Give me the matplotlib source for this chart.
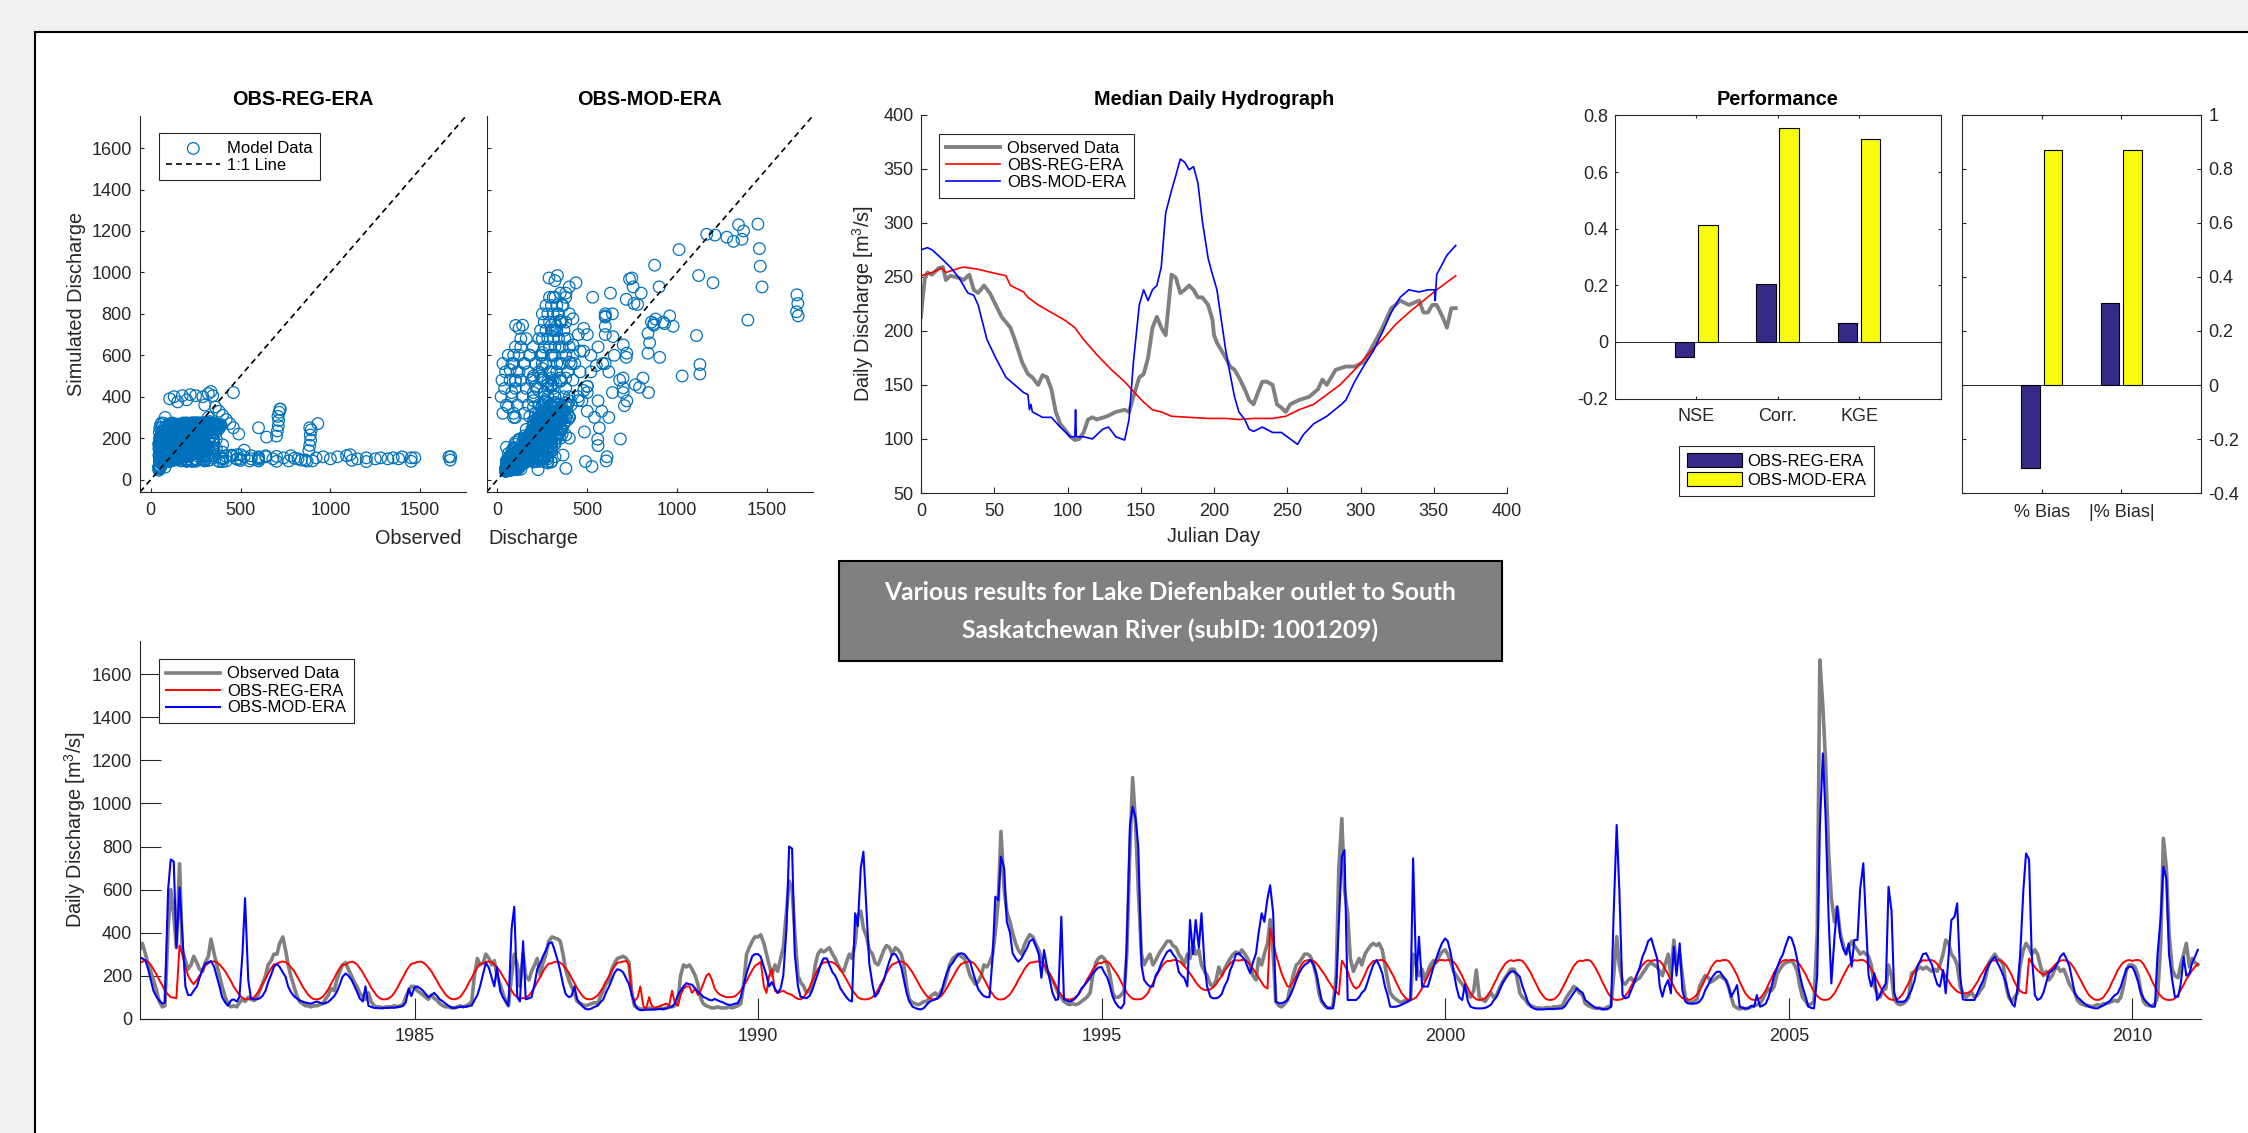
import numpy as np
import pandas as pd
import matplotlib
matplotlib.use('Agg')
import matplotlib.pyplot as plt
import matplotlib.patches as mpatches

W, H = 2248, 1133
plt.rcParams['font.family'] = ['Liberation Sans', 'DejaVu Sans']
plt.rcParams['mathtext.default'] = 'regular'
AXC = '#262626'
NAVY = '#352a87'
YEL = '#f9fb0e'
SCAT = '#0072BD'

# ---------------- data (semi-monthly readings, 24 per year) ----------------
years = list(range(1981, 2011))

obs_by_year = [
    [320, 350, 300, 250, 220, 180, 130, 80, 55, 60, 420, 600, 480, 330, 720, 320, 270, 230, 250, 290, 260, 230, 220, 260],
    [290, 370, 300, 250, 200, 150, 100, 70, 55, 60, 55, 75, 90, 80, 100, 90, 85, 95, 130, 160, 200, 250, 270, 300],
    [300, 350, 380, 320, 250, 200, 150, 110, 80, 70, 60, 60, 55, 60, 60, 65, 70, 90, 110, 140, 130, 180, 220, 250],
    [260, 230, 200, 170, 150, 120, 100, 90, 120, 80, 60, 55, 55, 50, 55, 55, 55, 60, 55, 60, 65, 100, 130, 150],
    [150, 130, 120, 110, 100, 90, 110, 95, 85, 70, 60, 55, 55, 50, 50, 55, 60, 55, 60, 65, 80, 200, 280, 250],
    [260, 300, 280, 250, 270, 200, 160, 120, 80, 60, 200, 300, 250, 150, 300, 200, 180, 220, 250, 280, 200, 260, 300, 360],
    [380, 375, 370, 360, 300, 230, 180, 150, 120, 80, 70, 65, 60, 65, 70, 75, 70, 100, 130, 160, 180, 230, 260, 280],
    [285, 290, 280, 260, 120, 60, 50, 45, 45, 45, 50, 45, 45, 50, 50, 45, 50, 55, 55, 60, 80, 200, 250, 240],
    [250, 230, 200, 160, 100, 70, 60, 55, 50, 50, 55, 50, 50, 50, 55, 50, 55, 60, 70, 150, 300, 330, 360, 380],
    [380, 390, 350, 300, 250, 200, 250, 220, 280, 330, 500, 640, 600, 400, 200, 170, 150, 120, 130, 150, 250, 300, 320, 310],
    [320, 330, 300, 280, 250, 230, 220, 260, 300, 280, 350, 480, 500, 420, 380, 320, 300, 260, 250, 280, 320, 340, 330, 300],
    [330, 320, 300, 250, 150, 90, 75, 70, 65, 70, 80, 80, 100, 110, 120, 100, 130, 150, 200, 250, 280, 290, 300, 290],
    [280, 250, 200, 180, 160, 170, 200, 250, 240, 260, 300, 400, 550, 870, 600, 500, 450, 400, 350, 320, 300, 340, 370, 390],
    [380, 350, 320, 280, 250, 220, 200, 180, 150, 120, 100, 80, 70, 65, 70, 65, 70, 80, 90, 100, 120, 200, 260, 280],
    [290, 280, 250, 200, 120, 100, 100, 110, 130, 300, 800, 1120, 900, 600, 300, 250, 280, 300, 250, 270, 300, 320, 340, 360],
    [360, 340, 330, 300, 280, 250, 300, 280, 350, 300, 320, 250, 220, 200, 160, 150, 180, 240, 200, 230, 260, 280, 300, 310],
    [300, 320, 300, 280, 250, 200, 180, 280, 250, 300, 350, 460, 300, 80, 60, 55, 70, 85, 150, 200, 250, 260, 280, 300],
    [300, 290, 250, 200, 120, 80, 60, 50, 50, 60, 200, 700, 930, 600, 490, 280, 220, 250, 280, 250, 300, 320, 340, 350],
    [340, 350, 320, 250, 180, 120, 100, 90, 80, 75, 85, 80, 90, 300, 250, 200, 230, 180, 220, 250, 270, 260, 290, 310],
    [320, 300, 260, 220, 200, 180, 160, 140, 120, 100, 130, 226, 100, 90, 80, 100, 120, 100, 110, 140, 170, 190, 210, 230],
    [230, 200, 120, 100, 90, 70, 60, 55, 50, 50, 48, 50, 52, 50, 55, 55, 58, 60, 90, 110, 130, 150, 140, 120],
    [110, 70, 60, 55, 50, 48, 50, 45, 48, 55, 60, 200, 381, 250, 170, 160, 180, 190, 170, 180, 190, 210, 230, 250],
    [260, 250, 240, 220, 200, 250, 300, 200, 365, 250, 300, 200, 100, 80, 75, 80, 90, 150, 180, 200, 190, 170, 180, 190],
    [200, 190, 180, 150, 100, 60, 50, 45, 50, 45, 50, 55, 60, 65, 70, 90, 120, 140, 130, 150, 210, 230, 250, 260],
    [265, 270, 250, 220, 150, 100, 80, 60, 70, 80, 400, 1667, 1450, 1200, 768, 560, 450, 520, 400, 350, 300, 330, 360, 340],
    [320, 300, 310, 300, 290, 250, 150, 120, 100, 130, 140, 250, 200, 90, 70, 65, 70, 80, 100, 210, 220, 230, 240, 230],
    [240, 230, 220, 230, 220, 250, 300, 365, 350, 300, 280, 250, 150, 120, 100, 110, 120, 100, 110, 130, 150, 200, 260, 280],
    [300, 280, 270, 250, 150, 100, 80, 100, 120, 250, 320, 350, 330, 300, 320, 300, 240, 200, 220, 180, 200, 230, 240, 220],
    [230, 200, 160, 140, 120, 85, 70, 65, 60, 60, 55, 60, 65, 60, 70, 70, 75, 80, 85, 80, 100, 150, 230, 250],
    [250, 240, 200, 130, 80, 65, 60, 60, 70, 100, 350, 838, 700, 400, 230, 200, 190, 250, 300, 350, 240, 280, 260, 250],
]

reg_by_year = [
    [258, 265, 270, 265, 250, 230, 205, 180, 155, 130, 112, 100, 98, 95, 340, 300, 240, 200, 175, 160, 180, 200, 220, 245],
    [258, 264, 266, 262, 252, 238, 220, 198, 175, 150, 128, 110, 97, 91, 90, 92, 100, 115, 135, 160, 185, 210, 235, 252],
    [255, 263, 266, 263, 255, 240, 222, 200, 176, 152, 130, 112, 98, 91, 90, 93, 102, 117, 138, 162, 188, 213, 236, 252],
    [250, 260, 265, 262, 252, 236, 215, 192, 168, 145, 123, 106, 95, 90, 90, 94, 104, 120, 142, 167, 193, 218, 240, 255],
    [258, 264, 265, 261, 252, 238, 220, 198, 175, 152, 130, 112, 99, 92, 90, 93, 102, 118, 140, 165, 190, 215, 238, 254],
    [258, 264, 266, 262, 252, 238, 220, 198, 175, 152, 130, 112, 100, 95, 95, 98, 108, 124, 146, 170, 195, 220, 242, 256],
    [258, 264, 265, 260, 250, 234, 214, 190, 165, 142, 120, 103, 93, 90, 91, 97, 108, 125, 148, 173, 198, 222, 245, 260],
    [262, 266, 268, 250, 110, 80, 100, 150, 60, 45, 100, 60, 50, 55, 60, 65, 70, 60, 130, 75, 60, 110, 140, 150],
    [150, 120, 140, 110, 130, 160, 200, 210, 180, 140, 120, 110, 105, 100, 100, 100, 105, 115, 130, 150, 175, 200, 225, 245],
    [255, 265, 150, 120, 200, 230, 130, 120, 125, 130, 120, 115, 110, 100, 92, 90, 100, 120, 145, 175, 205, 230, 250, 262],
    [262, 265, 262, 255, 243, 226, 205, 182, 158, 135, 115, 100, 92, 90, 90, 93, 100, 114, 135, 160, 186, 212, 235, 252],
    [258, 264, 266, 262, 252, 236, 215, 192, 168, 145, 123, 106, 95, 90, 91, 96, 106, 122, 143, 167, 192, 216, 238, 254],
    [260, 264, 266, 262, 250, 232, 210, 186, 160, 135, 114, 98, 90, 89, 92, 100, 113, 132, 155, 180, 205, 228, 247, 260],
    [262, 265, 266, 262, 250, 232, 208, 182, 155, 130, 110, 96, 90, 89, 92, 100, 113, 132, 155, 180, 205, 228, 247, 258],
    [258, 265, 266, 255, 235, 218, 195, 170, 145, 120, 103, 93, 90, 90, 92, 100, 115, 138, 165, 192, 218, 240, 258, 268],
    [268, 272, 273, 268, 258, 244, 228, 210, 190, 170, 152, 140, 134, 133, 136, 145, 160, 180, 200, 222, 242, 258, 268, 272],
    [270, 273, 272, 265, 250, 232, 212, 190, 168, 150, 140, 420, 360, 300, 250, 210, 175, 150, 150, 170, 200, 230, 255, 268],
    [272, 273, 268, 258, 243, 225, 205, 183, 162, 142, 125, 112, 270, 250, 220, 180, 150, 140, 150, 175, 205, 235, 255, 268],
    [268, 272, 273, 265, 248, 225, 198, 170, 142, 118, 100, 90, 87, 90, 100, 118, 142, 170, 198, 225, 248, 265, 272, 273],
    [270, 273, 272, 264, 248, 225, 198, 170, 142, 118, 100, 90, 87, 88, 95, 110, 132, 158, 185, 212, 236, 255, 267, 272],
    [268, 272, 273, 268, 255, 236, 212, 185, 158, 132, 110, 95, 88, 87, 90, 100, 118, 142, 168, 195, 222, 245, 262, 270],
    [268, 272, 273, 266, 250, 228, 200, 172, 145, 120, 100, 90, 87, 88, 92, 105, 125, 150, 178, 205, 230, 250, 264, 271],
    [268, 272, 273, 268, 254, 232, 205, 178, 150, 125, 108, 96, 90, 88, 90, 98, 112, 132, 158, 185, 212, 238, 258, 270],
    [268, 272, 273, 268, 252, 230, 202, 172, 142, 118, 100, 90, 87, 88, 95, 110, 132, 160, 188, 215, 240, 258, 270, 273],
    [270, 273, 272, 265, 250, 230, 205, 178, 150, 125, 106, 94, 88, 87, 90, 100, 118, 142, 168, 195, 222, 245, 262, 272],
    [270, 273, 272, 265, 250, 230, 205, 178, 150, 125, 106, 94, 88, 87, 90, 100, 118, 142, 168, 195, 222, 245, 262, 272],
    [270, 273, 272, 266, 254, 238, 218, 196, 174, 154, 138, 126, 120, 118, 118, 122, 132, 150, 172, 196, 220, 242, 260, 270],
    [270, 273, 270, 262, 248, 228, 200, 170, 145, 128, 120, 118, 280, 260, 240, 225, 212, 205, 210, 222, 236, 250, 262, 270],
    [272, 270, 262, 248, 230, 206, 180, 155, 130, 110, 96, 89, 87, 90, 100, 118, 142, 170, 198, 225, 248, 262, 270, 273],
    [268, 272, 273, 268, 254, 232, 205, 176, 148, 124, 106, 94, 88, 87, 88, 95, 110, 132, 158, 183, 205, 225, 242, 255],
]

mod_by_year = [
    [285, 280, 270, 230, 180, 130, 100, 85, 70, 75, 600, 740, 730, 330, 610, 400, 150, 110, 110, 130, 150, 190, 230, 255],
    [262, 268, 240, 195, 150, 100, 75, 60, 85, 90, 80, 100, 300, 560, 180, 95, 90, 90, 95, 105, 130, 170, 205, 240],
    [255, 240, 215, 195, 150, 125, 105, 95, 85, 80, 75, 72, 70, 75, 80, 75, 70, 72, 78, 90, 105, 125, 160, 195],
    [210, 200, 180, 155, 125, 95, 80, 150, 60, 55, 50, 50, 48, 50, 50, 50, 52, 50, 55, 55, 60, 75, 140, 105],
    [145, 150, 140, 130, 115, 100, 110, 120, 105, 90, 80, 70, 60, 52, 50, 52, 55, 55, 55, 58, 62, 85, 110, 150],
    [210, 260, 235, 190, 150, 240, 130, 100, 80, 60, 420, 520, 100, 80, 360, 90, 95, 100, 160, 230, 260, 290, 320, 350],
    [355, 320, 270, 220, 160, 115, 100, 105, 150, 90, 70, 55, 45, 43, 48, 55, 60, 75, 90, 120, 150, 180, 215, 230],
    [225, 215, 185, 160, 110, 70, 45, 40, 40, 42, 42, 43, 43, 44, 45, 45, 48, 52, 56, 70, 110, 130, 150, 165],
    [160, 158, 140, 125, 115, 102, 95, 88, 85, 92, 85, 80, 75, 68, 64, 65, 70, 72, 100, 150, 211, 250, 290, 300],
    [300, 288, 240, 200, 150, 170, 140, 120, 140, 200, 420, 800, 790, 300, 150, 102, 98, 95, 105, 130, 175, 210, 255, 280],
    [280, 250, 215, 200, 172, 140, 118, 100, 85, 80, 490, 430, 700, 776, 490, 257, 160, 102, 120, 149, 180, 226, 270, 300],
    [300, 280, 240, 180, 118, 80, 56, 50, 45, 43, 50, 65, 79, 85, 90, 95, 120, 170, 215, 242, 260, 280, 300, 304],
    [300, 285, 265, 220, 180, 140, 118, 105, 100, 100, 288, 567, 550, 753, 700, 450, 400, 304, 280, 265, 280, 304, 330, 360],
    [370, 340, 300, 190, 319, 250, 180, 120, 87, 90, 474, 90, 85, 79, 85, 95, 115, 140, 155, 170, 190, 211, 225, 238],
    [240, 215, 190, 150, 102, 75, 55, 48, 70, 350, 900, 985, 930, 800, 250, 180, 160, 149, 150, 200, 225, 260, 288, 310],
    [320, 300, 280, 218, 200, 190, 150, 459, 300, 459, 330, 490, 250, 149, 102, 95, 95, 100, 115, 150, 180, 226, 260, 300],
    [304, 290, 273, 240, 211, 260, 304, 400, 490, 450, 560, 620, 490, 79, 72, 72, 78, 87, 110, 140, 180, 210, 235, 250],
    [260, 273, 250, 211, 150, 87, 65, 50, 48, 48, 149, 443, 753, 784, 87, 87, 87, 87, 100, 120, 135, 170, 215, 250],
    [273, 250, 211, 150, 110, 56, 55, 56, 60, 65, 72, 80, 87, 745, 180, 381, 149, 150, 149, 190, 242, 280, 320, 350],
    [373, 360, 300, 220, 149, 100, 87, 160, 80, 56, 50, 48, 48, 48, 50, 56, 65, 85, 102, 130, 164, 185, 205, 218],
    [220, 210, 195, 150, 118, 80, 56, 48, 43, 43, 43, 44, 45, 45, 45, 46, 47, 48, 60, 80, 102, 120, 141, 130],
    [120, 87, 75, 65, 56, 50, 48, 45, 43, 45, 55, 490, 900, 600, 110, 95, 100, 130, 164, 200, 240, 288, 320, 360],
    [373, 330, 280, 150, 102, 150, 180, 118, 335, 200, 350, 133, 80, 71, 70, 70, 72, 80, 100, 133, 160, 185, 205, 218],
    [218, 200, 180, 150, 102, 125, 156, 56, 50, 48, 48, 60, 56, 110, 56, 60, 71, 100, 149, 200, 240, 273, 300, 340],
    [381, 375, 330, 273, 200, 149, 100, 56, 50, 48, 200, 892, 1233, 950, 458, 164, 381, 520, 380, 330, 300, 350, 242, 366],
    [366, 600, 722, 450, 200, 150, 211, 87, 110, 140, 164, 613, 500, 120, 79, 79, 79, 85, 110, 133, 180, 242, 270, 300],
    [304, 280, 250, 200, 160, 149, 226, 118, 300, 458, 474, 536, 200, 90, 87, 87, 87, 87, 120, 150, 180, 220, 250, 270],
    [288, 260, 230, 200, 164, 110, 70, 56, 140, 300, 600, 768, 740, 300, 110, 87, 95, 120, 170, 211, 225, 235, 260, 290],
    [304, 280, 242, 180, 118, 100, 87, 75, 65, 56, 52, 48, 48, 55, 62, 71, 80, 95, 110, 118, 150, 190, 230, 242],
    [240, 215, 170, 120, 95, 80, 65, 56, 56, 300, 474, 706, 650, 300, 180, 102, 102, 160, 288, 200, 211, 260, 290, 320],
]

# extra daily (obs, sim) pairs (days between the semi-monthly readings)
reg_extra_obs = [700, 705, 710, 712, 708, 715, 720, 880, 885, 890, 888, 893, 885, 645,
                 105, 130, 150, 175, 200, 220, 250, 290, 320, 335, 345, 360, 380, 400, 420, 440, 460,
                 480, 520, 560, 600, 640, 680, 740, 780, 820, 860, 920, 960, 1000, 1040, 1090, 1110,
                 1150, 1200, 1250, 1280, 1320, 1350, 1380, 1400, 1450, 1470, 1660, 1670]
reg_extra_sim = [210, 235, 260, 285, 305, 325, 340, 140, 165, 190, 215, 240, 250, 205,
                 390, 400, 375, 405, 385, 410, 405, 400, 415, 425, 405, 350, 330, 310, 290, 270, 250,
                 120, 110, 115, 105, 110, 100, 105, 115, 100, 95, 105, 110, 100, 110, 115, 120,
                 100, 105, 100, 105, 100, 105, 100, 110, 105, 105, 110, 110]
mod_extra_obs = [1165, 1211, 1277, 1314, 1342, 1370, 1361, 1011, 875, 1458, 1463, 1473, 1394, 1672, 1674, 1665,
                 748, 755, 717, 760, 780, 629, 530, 287, 334, 320, 399, 437, 857, 870, 922, 978, 959, 880,
                 1108, 1127, 1127, 1028, 903, 847, 838, 810, 841, 791, 684, 605, 610, 526, 381, 101, 120, 140,
                 735, 643, 586, 717, 699, 707, 567, 484, 558,
                 300, 340, 370, 310, 350, 330, 360, 305, 345, 375, 320, 355, 335, 365, 310, 350,
                 420, 450, 480, 520, 560, 600, 620, 650, 680, 700, 720, 640, 560, 500, 460, 430, 620, 580, 540,
                 500, 470, 60, 80, 100, 120, 150, 180, 200, 230, 90, 130, 160, 210, 240, 70, 250, 200, 260,
                 30, 90, 150, 210, 270, 390, 50, 110, 170, 230, 290, 410, 20, 80, 140, 200, 260, 320, 400,
                 40, 100, 160, 220, 280, 380, 25, 70, 130, 190, 250, 310, 420, 45, 110, 170, 230, 290, 390,
                 30, 90, 150, 210, 270, 330, 410, 60, 120, 180, 240, 300, 380, 100, 260, 290, 320, 360, 400,
                 130, 250, 280, 310, 340, 390, 240, 270, 300, 330, 370, 260, 290, 320, 350, 380,
                 250, 280, 310, 340, 400, 270, 300, 330, 360, 290, 320, 380]
mod_extra_sim = [1184, 1180, 1170, 1150, 1230, 1200, 1160, 1110, 1035, 1115, 1030, 930, 770, 850, 790, 810,
                 973, 930, 870, 850, 845, 900, 880, 973, 985, 960, 930, 950, 760, 745, 760, 740, 790, 775,
                 695, 555, 510, 500, 590, 660, 610, 490, 420, 445, 196, 90, 110, 63, 54, 744, 730, 745,
                 968, 690, 560, 590, 490, 357, 250, 230, 195,
                 320, 360, 400, 440, 480, 520, 560, 600, 640, 680, 720, 760, 800, 840, 880, 900,
                 650, 700, 620, 600, 640, 560, 520, 600, 480, 420, 380, 420, 380, 450, 520, 560, 300, 330, 300,
                 330, 380, 350, 420, 480, 520, 560, 600, 640, 680, 600, 640, 680, 450, 500, 530, 560, 350, 420,
                 320, 320, 320, 320, 320, 320, 360, 360, 360, 360, 360, 360, 400, 400, 400, 400, 400, 400, 400,
                 440, 440, 440, 440, 440, 440, 480, 480, 480, 480, 480, 480, 480, 520, 520, 520, 520, 520, 520,
                 560, 560, 560, 560, 560, 560, 560, 600, 600, 600, 600, 600, 600, 640, 640, 640, 640, 640, 640,
                 680, 680, 680, 680, 680, 680, 720, 720, 720, 720, 720, 760, 760, 760, 760, 760,
                 800, 800, 800, 800, 800, 840, 840, 840, 840, 880, 880, 880]

# median daily hydrograph (day of year, discharge)
hyd_obs_day = [0, 1.2, 2.7, 4.4, 7.5, 12, 15, 17, 20, 26, 29, 33, 36, 39, 43, 47, 51, 55, 61, 64, 69, 73, 76, 80,
               83, 86, 89, 92, 95, 98, 102, 105, 108, 111, 114, 117, 120, 127, 133, 139, 142, 145, 149, 152, 155,
               158, 161, 164, 167, 171, 174, 177, 180, 183, 186, 189, 192, 196, 199, 200, 202, 205, 208, 211, 214,
               217, 221, 224, 227, 230, 233, 236, 240, 243, 246, 249, 252, 258, 265, 271, 274, 277, 283, 290, 296,
               302, 308, 315, 321, 324, 327, 333, 340, 343, 346, 349, 352, 356, 359, 362, 365]
hyd_obs_val = [213, 231, 249, 254, 252, 258, 259, 247, 251, 249, 247, 252, 238, 235, 242, 235, 224, 213, 203, 192,
               171, 160, 157, 150, 159, 157, 146, 125, 114, 109, 102, 99, 100, 106, 118, 120, 118, 121, 125, 127,
               125, 139, 157, 160, 175, 203, 213, 203, 196, 252, 249, 235, 238, 242, 238, 231, 231, 224, 210, 196,
               189, 182, 175, 167, 164, 157, 146, 136, 132, 143, 153, 153, 150, 132, 129, 125, 132, 136, 139, 146,
               155, 150, 164, 167, 167, 171, 185, 203, 221, 224, 228, 224, 228, 217, 217, 224, 224, 213, 203, 221, 221]
hyd_reg_day = [0, 7.5, 14, 17, 26, 29, 39, 48, 58, 61, 70, 73, 80, 89, 98, 105, 111, 120, 130, 139, 145, 152, 158,
               164, 171, 183, 196, 208, 217, 227, 240, 249, 258, 268, 277, 286, 296, 305, 315, 324, 333, 343, 352,
               359, 365]
hyd_reg_val = [251, 254, 258, 254, 258, 259, 257, 254, 251, 242, 236, 231, 224, 217, 210, 203, 192, 178, 164, 153,
               144, 134, 127, 125, 121, 120, 119, 119, 118, 119, 119, 121, 127, 132, 141, 150, 164, 178, 192, 206,
               217, 228, 238, 245, 251]
hyd_mod_day = [0, 4.4, 7.5, 14, 20, 26, 32, 36, 39, 45, 51, 58, 64, 70, 73, 74, 75, 76, 83, 89, 95, 102, 105, 105.5,
               106, 111, 117, 124, 128, 133, 139, 142, 145, 149, 152, 155, 158, 161, 164, 167, 171, 174, 177, 180,
               183, 186, 189, 192, 196, 199, 202, 205, 208, 211, 214, 217, 221, 224, 227, 233, 240, 246, 252, 257,
               261, 268, 277, 287, 290, 296, 302, 309, 315, 321, 327, 333, 340, 346, 350.5, 351, 352, 359, 365]
hyd_mod_val = [275, 277, 275, 267, 259, 249, 235, 233, 224, 192, 175, 157, 150, 143, 141, 127, 132, 125, 120, 120,
               111, 102, 102, 127, 102, 102, 100, 109, 111, 102, 99, 118, 171, 224, 238, 228, 238, 242, 259, 309,
               330, 344, 359, 356, 349, 352, 337, 302, 267, 252, 238, 210, 182, 160, 139, 125, 118, 109, 107, 111,
               106, 106, 100, 95, 104, 114, 121, 132, 136, 153, 167, 182, 199, 217, 231, 238, 236, 238, 238, 228,
               252, 270, 279]

# performance metrics
perf_labels = ['NSE', 'Corr.', 'KGE']
perf_reg = [-0.052, 0.204, 0.066]
perf_mod = [0.414, 0.757, 0.715]
bias_labels = ['% Bias', '|% Bias|']
bias_reg = [-0.305, 0.302]
bias_mod = [0.871, 0.871]

obs = np.array(obs_by_year, dtype=float).ravel()
reg = np.array(reg_by_year, dtype=float).ravel()
mod = np.array(mod_by_year, dtype=float).ravel()
dates = pd.date_range('1981-01-01', '2010-12-31', freq='SMS')


def frac(l, t, r, b):
    """pixel box -> figure fraction [left, bottom, width, height]"""
    return [l / W, 1 - b / H, (r - l) / W, (b - t) / H]


def style(ax, ticklen, box=False):
    for side, sp in ax.spines.items():
        sp.set_color(AXC)
        sp.set_linewidth(0.8)
        if not box and side in ('top', 'right'):
            sp.set_visible(False)
    ax.tick_params(direction='in', length=ticklen, width=0.8, colors=AXC, labelsize=13)


def legend_at(ax, handles, labels, x, y, **kw):
    opts = dict(loc='upper left', bbox_to_anchor=(x / W, 1 - y / H), bbox_transform=fig.transFigure,
                borderaxespad=0, fontsize=12, frameon=True, fancybox=False, edgecolor=AXC,
                framealpha=1, handletextpad=0.4, borderpad=0.45, labelspacing=0.12)
    opts.update(kw)
    leg = ax.legend(handles, labels, **opts)
    leg.get_frame().set_linewidth(0.8)
    for t in leg.get_texts():
        t.set_color('black')
    return leg


fig = plt.figure(figsize=(W / 100, H / 100), dpi=100, facecolor='#f0f0f0')
fig.add_artist(mpatches.Rectangle((35 / W, -0.1), 1.1, 1.1 - 32 / H, transform=fig.transFigure,
                                  facecolor='white', edgecolor='black', linewidth=1.5, zorder=-10))

# ---------------- scatter plots ----------------
lims = [-60, 1755]
sc_axes = [fig.add_axes(frac(140, 116, 466, 492)), fig.add_axes(frac(486.7, 116, 812.7, 492))]
sc_data = [(np.r_[obs, reg_extra_obs], np.r_[reg, reg_extra_sim], 'OBS-REG-ERA'),
           (np.r_[obs, mod_extra_obs], np.r_[mod, mod_extra_sim], 'OBS-MOD-ERA')]
for ax, (xo, ys, title) in zip(sc_axes, sc_data):
    h_sc = ax.scatter(xo, ys, s=70, facecolors='none', edgecolors=SCAT, linewidths=0.9)
    h_ln, = ax.plot(lims, lims, linestyle=(0, (3.5, 2.5)), color='black', lw=1.2)
    ax.set_xlim(lims)
    ax.set_ylim(lims)
    ax.set_xticks([0, 500, 1000, 1500])
    ax.set_yticks(range(0, 1601, 200))
    style(ax, 2.7)
    ax.tick_params(axis='x', pad=7.5)
    ax.tick_params(axis='y', pad=6)
    ax.set_title(title, fontsize=14.3, fontweight='bold', pad=7.8)
sc_axes[1].tick_params(labelleft=False)
sc_axes[0].set_ylabel('Simulated Discharge', fontsize=14.3, color=AXC)
sc_axes[0].yaxis.set_label_coords(-0.166, 0.5)
legend_at(sc_axes[0], [h_sc, h_ln], ['Model Data', '1:1 Line'], 158.7, 133.3,
          handlelength=3.25, scatterpoints=1)
fig.text(462 / W, 1 - 539 / H, 'Observed', ha='right', va='center', fontsize=14.3, color=AXC)
fig.text(488 / W, 1 - 539 / H, 'Discharge', ha='left', va='center', fontsize=14.3, color=AXC)

# ---------------- median daily hydrograph ----------------
axh = fig.add_axes(frac(921, 114.7, 1507, 493))
h1, = axh.plot(hyd_obs_day, hyd_obs_val, color=(0.5, 0.5, 0.5), lw=2.8)
h2, = axh.plot(hyd_reg_day, hyd_reg_val, color='red', lw=1.2)
h3, = axh.plot(hyd_mod_day, hyd_mod_val, color='blue', lw=1.2)
axh.set_xlim(0, 400)
axh.set_ylim(50, 400)
axh.set_xticks(range(0, 401, 50))
axh.set_yticks(range(50, 401, 50))
style(axh, 4.2)
axh.tick_params(axis='x', pad=7.5)
axh.tick_params(axis='y', pad=5.4)
axh.set_title('Median Daily Hydrograph', fontsize=14.3, fontweight='bold', pad=6.8)
axh.set_xlabel('Julian Day', fontsize=14.3, color=AXC)
axh.xaxis.set_label_coords(0.5, -0.09)
axh.set_ylabel('Daily Discharge [m$^3$/s]', fontsize=14.3, color=AXC)
axh.yaxis.set_label_coords(-0.076, 0.5)
legend_at(axh, [h1, h2, h3], ['Observed Data', 'OBS-REG-ERA', 'OBS-MOD-ERA'], 938.7, 133.5,
          handlelength=3.25)

# ---------------- performance bars ----------------
axp = fig.add_axes(frac(1614.7, 115.4, 1940.6, 398.6))
xp = np.arange(1, len(perf_labels) + 1)
b1 = axp.bar(xp - 0.142, perf_reg, 0.24, color=NAVY, edgecolor='black', linewidth=0.8, zorder=2)
b2 = axp.bar(xp + 0.142, perf_mod, 0.24, color=YEL, edgecolor='black', linewidth=0.8, zorder=2)
axp.axhline(0, color=AXC, lw=0.7, zorder=1)
axp.set_xlim(0, 4)
axp.set_ylim(-0.2, 0.8)
axp.set_xticks(xp)
axp.set_xticklabels(perf_labels)
axp.set_yticks([-0.2, 0, 0.2, 0.4, 0.6, 0.8])
axp.set_yticklabels(['-0.2', '0', '0.2', '0.4', '0.6', '0.8'])
style(axp, 2.4, box=True)
axp.tick_params(top=True, right=True)
axp.tick_params(axis='x', pad=7)
axp.tick_params(axis='y', pad=4.8)
axp.set_title('Performance', fontsize=14.3, fontweight='bold', pad=7.3)
legend_at(axp, [b1, b2], ['OBS-REG-ERA', 'OBS-MOD-ERA'], 1679, 446,
          handlelength=3.35, handleheight=0.9, handletextpad=0.3, labelspacing=0.2)

# ---------------- bias bars ----------------
axb = fig.add_axes(frac(1961.7, 114.7, 2201.3, 493.2))
xb = np.arange(1, len(bias_labels) + 1)
axb.bar(xb - 0.142, bias_reg, 0.234, color=NAVY, edgecolor='black', linewidth=0.8, zorder=2)
axb.bar(xb + 0.142, bias_mod, 0.234, color=YEL, edgecolor='black', linewidth=0.8, zorder=2)
axb.axhline(0, color=AXC, lw=0.7, zorder=1)
axb.set_xlim(0, 3)
axb.set_ylim(-0.4, 1)
axb.set_xticks(xb)
axb.set_xticklabels(bias_labels)
axb.set_yticks([-0.4, -0.2, 0, 0.2, 0.4, 0.6, 0.8, 1])
axb.set_yticklabels(['-0.4', '-0.2', '0', '0.2', '0.4', '0.6', '0.8', '1'])
style(axb, 2.7, box=True)
axb.tick_params(top=True, left=True, right=True, labelleft=False, labelright=True)
axb.tick_params(axis='x', pad=7.5)
axb.tick_params(axis='y', pad=5)

# ---------------- title box ----------------
fig.add_artist(mpatches.Rectangle((839 / W, 1 - 661 / H), (1502 - 839) / W, 100 / H, transform=fig.transFigure,
                                  facecolor='#808080', edgecolor='black', linewidth=1.5, zorder=3))
t1 = fig.text(1170.5 / W, 1 - 593 / H, 'Various results for Lake Diefenbaker outlet to South',
              ha='center', va='center', color='white', fontweight='bold', family=['Lato', 'DejaVu Sans'],
              fontsize=15, zorder=4)
t2 = fig.text(1170.5 / W, 1 - 630 / H, 'Saskatchewan River (subID: 1001209)',
              ha='center', va='center', color='white', fontweight='bold', family=['Lato', 'DejaVu Sans'],
              fontsize=15, zorder=4)
fig.canvas.draw()
wt = t1.get_window_extent(fig.canvas.get_renderer()).width
fs = 15 * 574 / wt
t1.set_fontsize(fs)
t2.set_fontsize(fs)

# ---------------- time series ----------------
axt = fig.add_axes(frac(139.7, 641, 2201, 1018.7))
g1, = axt.plot(dates, obs, color=(0.5, 0.5, 0.5), lw=2.6)
g2, = axt.plot(dates, reg, color='red', lw=1.4)
g3, = axt.plot(dates, mod, color='blue', lw=1.5)
axt.set_xlim(pd.Timestamp('1981-01-01'), pd.Timestamp('2011-01-01'))
axt.set_ylim(0, 1755)
tick_years = [1985, 1990, 1995, 2000, 2005, 2010]
axt.set_xticks([pd.Timestamp(f'{y}-01-01') for y in tick_years])
axt.set_xticklabels([str(y) for y in tick_years])
axt.set_yticks(range(0, 1601, 200))
style(axt, 14.8)
axt.tick_params(axis='x', pad=7)
axt.tick_params(axis='y', pad=5.5)
axt.set_ylabel('Daily Discharge [m$^3$/s]', fontsize=14.3, color=AXC)
axt.yaxis.set_label_coords(-0.0253, 0.5)
legend_at(axt, [g1, g2, g3], ['Observed Data', 'OBS-REG-ERA', 'OBS-MOD-ERA'], 158.8, 659,
          handlelength=3.25)

fig.savefig('out.png', dpi=100, facecolor=fig.get_facecolor())
